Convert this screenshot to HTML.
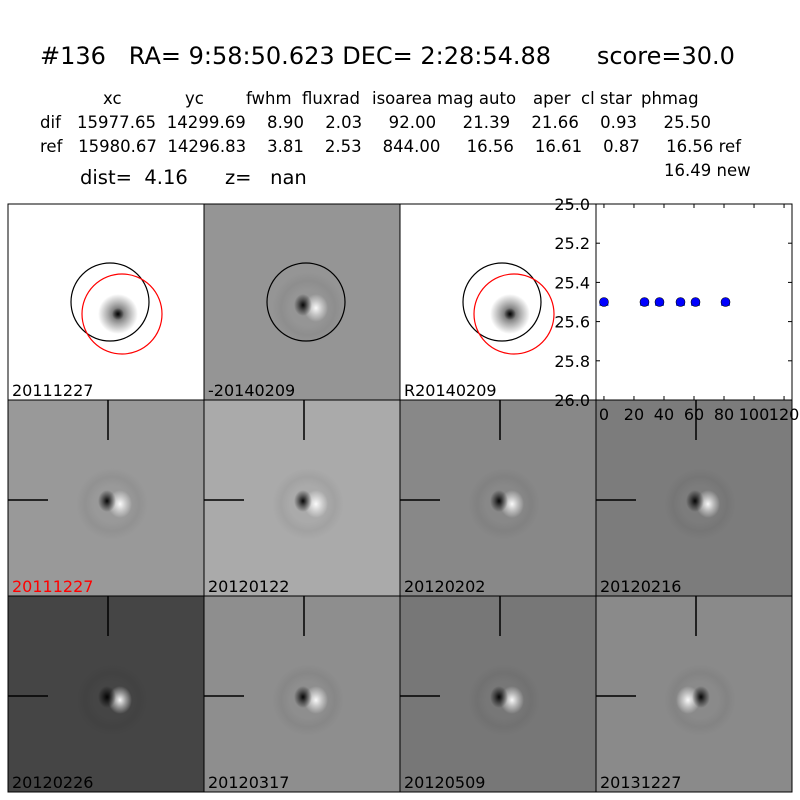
<!DOCTYPE html>
<html><head><meta charset="utf-8"><style>
body{margin:0;background:#fff;width:800px;height:800px;overflow:hidden}
svg{display:block;font-family:"DejaVu Sans","Liberation Sans",sans-serif}
</style></head><body>
<svg id="root" width="800" height="800" viewBox="0 0 800 800">
<defs>
<radialGradient id="dk"><stop offset="0" stop-color="#000" stop-opacity="0.95"/><stop offset="0.5" stop-color="#000" stop-opacity="0.45"/><stop offset="1" stop-color="#000" stop-opacity="0"/></radialGradient>
<radialGradient id="wt"><stop offset="0" stop-color="#fff" stop-opacity="0.95"/><stop offset="0.5" stop-color="#fff" stop-opacity="0.45"/><stop offset="1" stop-color="#fff" stop-opacity="0"/></radialGradient>
<radialGradient id="halo"><stop offset="0.5" stop-color="#000" stop-opacity="0"/><stop offset="0.75" stop-color="#000" stop-opacity="0.05"/><stop offset="1" stop-color="#000" stop-opacity="0"/></radialGradient>
</defs>
<g font-size="16.5" fill="#000">
<text x="40" y="64" font-size="24" xml:space="preserve">#136   RA= 9:58:50.623 DEC= 2:28:54.88      score=30.0</text>
<text x="103" y="104">xc</text>
<text x="185" y="104">yc</text>
<text x="246" y="104">fwhm</text>
<text x="302" y="104">fluxrad</text>
<text x="372" y="104">isoarea</text>
<text x="437" y="104">mag auto</text>
<text x="533" y="104">aper</text>
<text x="581" y="104">cl star</text>
<text x="641" y="104">phmag</text>
<text x="40" y="128" xml:space="preserve" textLength="671">dif   15977.65  14299.69    8.90    2.03     92.00     21.39    21.66    0.93     25.50</text>
<text x="40" y="152" xml:space="preserve" textLength="701">ref   15980.67  14296.83    3.81    2.53    844.00     16.56    16.61    0.87     16.56 ref</text>
<text x="664" y="176">16.49 new</text>
<text x="80" y="184" font-size="19.5" xml:space="preserve">dist=  4.16      z=   nan</text>
</g>
<g id="panels"></g>
<g id="plot"></g>
</svg>
<script>
// stamps
const stampLabels = ["20111227","-20140209","R20140209","20111227","20120122","20120202","20120216","20120226","20120317","20120509","20131227"];
const stampGrays = ["#ffffff","#959595","#ffffff","#999999","#aaaaaa","#888888","#7c7c7c","#454545","#8e8e8e","#777777","#8a8a8a"];
// scatter data
const epochs = [0, 27, 37, 51, 61, 81];
const mags = [25.5, 25.5, 25.5, 25.5, 25.5, 25.5];
const xTicks = [0,20,40,60,80,100,120];
const yTicks = [25.0,25.2,25.4,25.6,25.8,26.0];

const NS="http://www.w3.org/2000/svg";
function mk(tag, attrs, parent){const e=document.createElementNS(NS,tag);for(const k in attrs)e.setAttribute(k,attrs[k]);parent.appendChild(e);return e;}
const P=document.getElementById('panels');
const pos=[[8,204],[204,204],[400,204],[8,400],[204,400],[400,400],[596,400],[8,596],[204,596],[400,596],[596,596]];
pos.forEach((p,i)=>{
  const g=mk('g',{},P);
  
  
  const x=p[0],y=p[1];
  mk('rect',{x:x,y:y,width:196,height:196,fill:stampGrays[i],stroke:'#000','stroke-width':1},g);
  const cx=x+102,cy=y+102;
  if(i===0||i===2){
    mk('circle',{cx:cx+8,cy:cy+8,r:20,fill:'url(#dk)',opacity:0.75},g);
    mk('circle',{cx:cx+8,cy:cy+8,r:6,fill:'url(#dk)'},g);
    mk('circle',{cx:cx,cy:cy-4,r:39,fill:'none',stroke:'#000','stroke-width':1.2},g);
    mk('circle',{cx:cx+12,cy:cy+8,r:40,fill:'none',stroke:'#f00','stroke-width':1.2},g);
  } else {
    mk('circle',{cx:cx+2,cy:cy+2,r:36,fill:'url(#halo)'},g);
    const flip=(i===10)?-1:1;
    mk('ellipse',{cx:cx+10*flip,cy:cy+2,rx:12,ry:14,fill:'url(#wt)'},g);
    mk('ellipse',{cx:cx-3*flip,cy:cy-1,rx:9,ry:11,fill:'url(#dk)'},g);
    if(i===1) mk('circle',{cx:cx,cy:cy-4,r:39,fill:'none',stroke:'#000','stroke-width':1.2},g);
  }
  if(i>=3){
    mk('line',{x1:x+100,y1:y,x2:x+100,y2:y+40,stroke:'#000','stroke-width':1.5},g);
    mk('line',{x1:x,y1:y+100,x2:x+40,y2:y+100,stroke:'#000','stroke-width':1.5},g);
  }
  const t=mk('text',{x:x+4,y:y+192,'font-size':16,fill:(i===3?'#f00':'#000')},g);
  t.textContent=stampLabels[i];
});
// scatter plot
const G=document.getElementById('plot');
const X0=596,X1=792,Y0=204,Y1=400;
const sx=v=>X0+(v+5.3)*(196/130.6);
const sy=v=>Y0+(v-25.0)*(Y1-Y0);
const ax=mk('rect',{x:X0,y:Y0,width:196,height:196,fill:'#fff',stroke:'#000','stroke-width':1},G);


xTicks.forEach(v=>{
  mk('line',{x1:sx(v),y1:Y1,x2:sx(v),y2:Y1-4,stroke:'#000'},G);
  mk('line',{x1:sx(v),y1:Y0,x2:sx(v),y2:Y0+4,stroke:'#000'},G);
  const t=mk('text',{x:sx(v),y:Y1+20,'font-size':16,'text-anchor':'middle'},G);
  
  
  t.textContent=v;
});
yTicks.forEach(v=>{
  mk('line',{x1:X0,y1:sy(v),x2:X0+4,y2:sy(v),stroke:'#000'},G);
  mk('line',{x1:X1,y1:sy(v),x2:X1-4,y2:sy(v),stroke:'#000'},G);
  const t=mk('text',{x:X0-6,y:sy(v)+6,'font-size':16,'text-anchor':'end'},G);
  
  
  t.textContent=v.toFixed(1);
});
epochs.forEach((e,i)=>{
  mk('rect',{x:sx(e)-4.5,y:sy(mags[i])+2,width:9,height:2,fill:'#4060ff'},G);
  const c=mk('circle',{cx:sx(e),cy:sy(mags[i]),r:4.5,fill:'#0000ff',stroke:'#000','stroke-width':0.6},G);
  
  
});
</script>
</body></html>
